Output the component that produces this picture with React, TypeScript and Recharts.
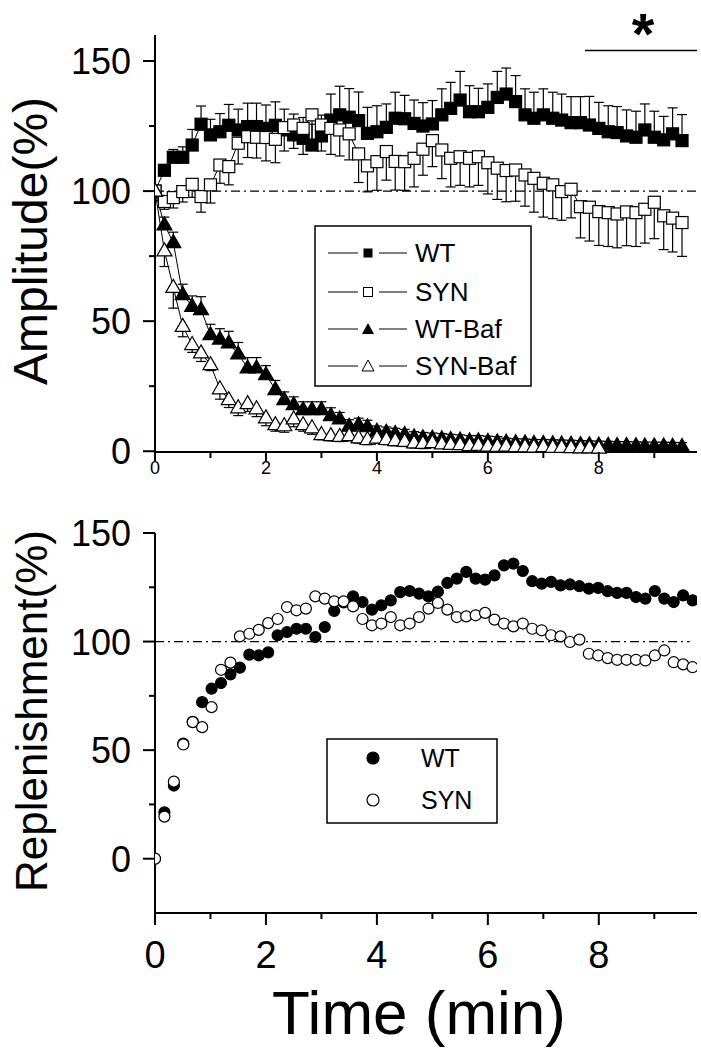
import React from "react";
import { LineChart, Line, XAxis, YAxis, ErrorBar, ReferenceLine, Legend } from "recharts";

const FONT = "'Liberation Sans', Arial, Helvetica, sans-serif";

// amplitude panel (one point every 10 s)
const ampTime = [0, 0.17, 0.33, 0.5, 0.67, 0.83, 1, 1.17, 1.33, 1.5, 1.67, 1.83, 2, 2.17, 2.33, 2.5, 2.67, 2.83, 3, 3.17, 3.33, 3.5, 3.67, 3.83, 4, 4.17, 4.33, 4.5, 4.67, 4.83, 5, 5.17, 5.33, 5.5, 5.67, 5.83, 6, 6.17, 6.33, 6.5, 6.67, 6.83, 7, 7.17, 7.33, 7.5, 7.67, 7.83, 8, 8.17, 8.33, 8.5, 8.67, 8.83, 9, 9.17, 9.33, 9.5];
const wtAmp = [100, 108, 113, 113, 117.7, 125.7, 121.6, 122.8, 125.3, 123.5, 124.8, 124.8, 124.1, 125.3, 123.5, 121.6, 120.3, 117.7, 121.2, 127.3, 129.3, 128.4, 127.1, 122.2, 122.8, 124.5, 128, 127.8, 126, 125, 125.8, 129.3, 131.8, 135, 130.5, 130.5, 132.2, 136, 137.3, 134.4, 129.3, 128, 129.3, 128, 127.3, 126.3, 126.3, 125.4, 124.1, 122.8, 122.5, 121.2, 120.7, 123.5, 120.7, 119.7, 122, 119.4];
const wtAmpErr = [0, 2, 3, 4, 6, 7, 6, 7, 8, 8, 9, 9, 9, 9, 8, 8, 8, 8, 8, 10, 11, 11, 11, 10, 10, 9, 10, 9, 9, 9, 9, 10, 10, 11, 10, 9, 9, 10, 10, 10, 10, 10, 10, 10, 10, 10, 10, 11, 10, 10, 10, 10, 10, 10, 10, 9, 10, 10];
const synAmp = [100, 96, 97.5, 99.8, 102.6, 97.9, 102.4, 110, 109.4, 118.4, 120.9, 120.7, 120.6, 119.9, 124.4, 125.4, 124.1, 129.3, 125.4, 124.1, 123.5, 122, 114.3, 109.7, 111.3, 115.2, 111.4, 111.3, 112.6, 116.1, 119.4, 115.8, 112.6, 113.2, 112.6, 113.2, 110.9, 108.8, 107.9, 108.1, 106.2, 104.9, 103, 102.4, 99.8, 100.7, 94, 93.8, 92.1, 91.7, 91.2, 92, 91.7, 93, 95.7, 90.5, 89.6, 87.9];
const synAmpErr = [0, 3, 4, 4, 5, 6, 7, 7, 7, 8, 8, 8, 9, 9, 9, 9, 10, 10, 10, 10, 10, 10, 11, 10, 11, 11, 11, 11, 11, 10, 10, 11, 11, 11, 11, 11, 12, 12, 12, 12, 12, 13, 13, 13, 11, 11, 12, 13, 13, 13, 13, 13, 13, 13, 14, 13, 13, 13];
const wtBaf = [100, 87, 80.2, 60.2, 55.7, 54.4, 44.8, 43.1, 41.6, 37.4, 32, 32, 29.4, 23.7, 19.8, 17.9, 16, 16, 16, 13.7, 12.4, 9.6, 10.2, 9.4, 7.7, 7.3, 6.8, 6.4, 5.5, 5.2, 5, 4.8, 4.5, 4.3, 4, 4, 3.8, 3.6, 3.5, 3.3, 3.2, 3, 3, 2.9, 2.8, 2.7, 2.6, 2.5, 2.4, 2.3, 2.2, 2.2, 2.1, 2, 2, 2, 1.9, 1.8];
const wtBafErr = [0, 3, 4, 4, 4, 5, 4, 4, 4.5, 4.4, 4, 4, 3.5, 3.5, 3, 3, 3, 3, 3, 3, 2.5, 2.5, 2.5, 2.5, 2, 2, 2, 2, 2, 2, 2, 2, 2, 2, 2, 2, 2, 2, 1.5, 1.5, 1.5, 1.5, 1.5, 1.5, 1.5, 1.5, 1.5, 1.5, 1.5, 1.5, 1.5, 1.5, 1.5, 1.5, 1.5, 1.5, 1.5, 1.5];
const synBaf = [100, 77, 63, 48, 41, 37.8, 33.3, 24, 19.8, 16.7, 18.3, 16.3, 12.8, 10.2, 9.8, 12.4, 10.2, 9, 6.4, 6, 5.7, 6, 5.1, 4.5, 5, 4.5, 4.1, 3.8, 3.2, 3, 3.3, 2.8, 2.6, 2.5, 2.2, 2.3, 2, 1.9, 2, 1.8, 1.7, 1.6, 1.8, 1.5, 1.5, 1.4, 1.3, 1.3, 1.2];
const synBafErr = [0, 6, 8, 4, 3, 3.3, 2.3, 4, 3, 3, 3, 3, 3, 2.5, 2.5, 3, 2.5, 2.5, 2, 2, 2, 2, 2, 2, 2, 2, 2, 2, 2, 2, 1.5, 1.5, 1.5, 1.5, 1.5, 1.5, 1.5, 1.5, 1.5, 1.5, 1.5, 1.5, 1.5, 1.5, 1.5, 1.5, 1.5, 1.5, 1.5];

// replenishment panel
const repTime = [0, 0.17, 0.34, 0.51, 0.68, 0.85, 1.02, 1.19, 1.36, 1.53, 1.7, 1.87, 2.04, 2.21, 2.38, 2.55, 2.72, 2.89, 3.06, 3.23, 3.4, 3.57, 3.74, 3.91, 4.08, 4.25, 4.42, 4.59, 4.76, 4.93, 5.1, 5.27, 5.44, 5.61, 5.78, 5.95, 6.12, 6.29, 6.46, 6.63, 6.8, 6.97, 7.14, 7.31, 7.48, 7.65, 7.82, 7.99, 8.16, 8.33, 8.5, 8.67, 8.84, 9.01, 9.18, 9.35, 9.52, 9.69];
const wtRep = [0, 21.4, 33.7, 53, 63, 72.1, 78.3, 80.9, 84.9, 88, 94, 93.6, 95, 102.9, 104.4, 105.9, 105.9, 102.1, 106.7, 114.1, 118, 120.8, 118.2, 114.7, 116.7, 119, 122.8, 123.3, 122.1, 120.8, 123, 127, 129, 132.1, 129, 128.5, 130.5, 135.1, 135.9, 132.5, 127.8, 126.7, 127.5, 125.9, 126.3, 125.5, 124.4, 124.7, 123.2, 122.4, 122.4, 120.5, 119.8, 123.3, 119.8, 118.2, 121.3, 119];
const synRep = [0, 19.4, 35.5, 52.6, 62.9, 60.6, 69.8, 87, 90.3, 102.4, 103.6, 105.4, 108.5, 110.4, 115.9, 114.4, 115.2, 120.8, 119.8, 118.5, 118.5, 116.2, 110.4, 107.5, 108.3, 111.3, 107.5, 108.3, 111.3, 115.2, 117.8, 114.7, 111.3, 111.6, 112.1, 113.2, 110.1, 108.3, 107, 108.3, 105.9, 105.2, 102.9, 102.4, 99.8, 100.9, 94.4, 93.6, 92.4, 91.6, 91.6, 91.6, 91.3, 93.6, 95.9, 90.5, 89.5, 88.2];

const topLegendNames = ["WT", "SYN", "WT-Baf", "SYN-Baf"];
const bottomLegendNames = ["WT", "SYN"];
const xTicks = [0, 1, 2, 3, 4, 5, 6, 7, 8, 9];
const yTicks = [0, 25, 50, 75, 100, 125, 150];

function rows(t: number[], v: number[], err?: number[], up = true) {
  return v.map((y, i) => {
    const e = err ? err[i] : 0;
    return { t: t[i], y, e: e ? (up ? [0, e] : [e, 0]) : undefined };
  });
}

const wtAmpRows = rows(ampTime, wtAmp, wtAmpErr, true);
const synAmpRows = rows(ampTime, synAmp, synAmpErr, false);
const wtBafRows = rows(ampTime, wtBaf, wtBafErr, true);
const synBafRows = rows(ampTime, synBaf, synBafErr, false);
const wtRepRows = rows(repTime, wtRep);
const synRepRows = rows(repTime, synRep);

const square = (fill: string) => (p: any) =>
  <rect key={p.index} x={p.cx - 6} y={p.cy - 6} width={12} height={12} fill={fill} stroke="#000" strokeWidth={1.2} />;
const triangle = (fill: string) => (p: any) =>
  <path key={p.index} d={`M${p.cx},${p.cy - 8}L${p.cx + 7.5},${p.cy + 5}L${p.cx - 7.5},${p.cy + 5}Z`} fill={fill} stroke="#000" strokeWidth={1.2} />;
const circle = (fill: string) => (p: any) =>
  <circle key={p.index} cx={p.cx} cy={p.cy} r={5.5} fill={fill} stroke="#000" strokeWidth={1.2} />;

function XTick({ x, y, payload, small }: any) {
  const v = payload.value;
  const major = v % 2 === 0;
  return (
    <g>
      <line x1={x} x2={x} y1={y} y2={y + (major ? (small ? 9 : 12) : 6)} stroke="#000" strokeWidth={2} />
      {major && (
        <text x={x} y={small ? y + 22 : y + 55} textAnchor="middle" fontSize={small ? 18 : 38} fontFamily={FONT} fill="#000">
          {v}
        </text>
      )}
    </g>
  );
}

function YTick({ x, y, payload }: any) {
  const v = payload.value;
  const major = v % 50 === 0;
  return (
    <g>
      <line x1={x - (major ? 12 : 6)} x2={x} y1={y} y2={y} stroke="#000" strokeWidth={2} />
      {major && (
        <text x={x - 24} y={y + 13} textAnchor="end" fontSize={36} fontFamily={FONT} fill="#000">
          {v}
        </text>
      )}
    </g>
  );
}

const yTitle = (text: string, cy: number, size: number) => (p: any) => {
  const x = 47;
  const y = p.viewBox.y + cy;
  return (
    <text x={x} y={y} transform={`rotate(-90, ${x}, ${y})`} textAnchor="middle" fontSize={size} fontFamily={FONT} fill="#000">
      {text}
    </text>
  );
};

function TopLegend() {
  const ys = [28, 67, 104, 141];
  const markers = [
    <rect x={49.5} y={-4.5} width={9} height={9} fill="#000" />,
    <rect x={49.5} y={-4.5} width={9} height={9} fill="#fff" stroke="#000" />,
    <path d="M54,-6L60,5L48,5Z" fill="#000" />,
    <path d="M54,-6L60,5L48,5Z" fill="#fff" stroke="#000" />,
  ];
  return (
    <svg width={218} height={162} style={{ display: "block" }}>
      <rect x={1} y={1} width={216} height={160} fill="#fff" stroke="#000" strokeWidth={1.5} />
      {topLegendNames.map((name, i) => (
        <g key={name} transform={`translate(0, ${ys[i]})`}>
          <line x1={14} x2={44} y1={0} y2={0} stroke="#000" />
          <line x1={65} x2={93} y1={0} y2={0} stroke="#000" />
          {markers[i]}
          <text x={101} y={9} fontSize={26} fontFamily={FONT} fill="#000">{name}</text>
        </g>
      ))}
    </svg>
  );
}

function BottomLegend() {
  const ys = [20, 62];
  return (
    <svg width={172} height={86} style={{ display: "block" }}>
      <rect x={1} y={1} width={170} height={84} fill="#fff" stroke="#000" strokeWidth={1.5} />
      {bottomLegendNames.map((name, i) => (
        <g key={name}>
          <circle cx={47} cy={ys[i]} r={6} fill={i === 0 ? "#000" : "#fff"} stroke="#000" strokeWidth={1.2} />
          <text x={95} y={ys[i] + 9} fontSize={25} fontFamily={FONT} fill="#000">{name}</text>
        </g>
      ))}
    </svg>
  );
}

const dash = "9 4 2 4";

export default function App() {
  return (
    <div style={{ position: "absolute", left: 0, top: 0, width: 701, height: 1049, background: "#fff" }}>
      <div style={{ position: "absolute", left: 0, top: 0 }}>
        <LineChart width={701} height={490} margin={{ top: 35, right: 4, bottom: 0, left: 0 }}>
          <XAxis dataKey="t" type="number" domain={[0, 9.77]} ticks={xTicks} interval={0} height={38}
            tickSize={0} tickMargin={0} axisLine={{ stroke: "#000", strokeWidth: 2 }} tickLine={false}
            tick={(p: any) => <XTick {...p} small />} allowDataOverflow />
          <YAxis type="number" domain={[0, 160]} ticks={yTicks} interval={0} width={155}
            tickSize={0} tickMargin={0} axisLine={{ stroke: "#000", strokeWidth: 2 }} tickLine={false}
            tick={(p: any) => <YTick {...p} />} label={{ content: yTitle("Amplitude(%)", 206, 48) }} />
          <ReferenceLine y={100} stroke="#000" strokeWidth={1.3} strokeDasharray={dash} />
          <ReferenceLine segment={[{ x: 7.75, y: 154 }, { x: 9.77, y: 154 }]} stroke="#000" strokeWidth={1.5}
            label={{ content: (p: any) => (
              <text x={p.viewBox.x + p.viewBox.width / 2 + 2} y={p.viewBox.y + 3} textAnchor="middle" fontSize={58} fontWeight="bold" fontFamily={FONT} fill="#000">*</text>
            ) }} />
          <Line data={wtAmpRows} dataKey="y" stroke="#000" strokeWidth={1} dot={square("#000")} isAnimationActive={false}>
            <ErrorBar dataKey="e" direction="y" width={5} stroke="#000" strokeWidth={1.2} />
          </Line>
          <Line data={synAmpRows} dataKey="y" stroke="#000" strokeWidth={1} dot={square("#fff")} isAnimationActive={false}>
            <ErrorBar dataKey="e" direction="y" width={5} stroke="#000" strokeWidth={1.2} />
          </Line>
          <Line data={wtBafRows} dataKey="y" stroke="#000" strokeWidth={1} dot={triangle("#000")} isAnimationActive={false}>
            <ErrorBar dataKey="e" direction="y" width={5} stroke="#000" strokeWidth={1.2} />
          </Line>
          <Line data={synBafRows} dataKey="y" stroke="#000" strokeWidth={1} dot={triangle("#fff")} isAnimationActive={false}>
            <ErrorBar dataKey="e" direction="y" width={5} stroke="#000" strokeWidth={1.2} />
          </Line>
          <Legend content={() => <TopLegend />} layout="vertical" align="center" verticalAlign="middle"
            wrapperStyle={{ left: 314, top: 225, width: 218, height: 162 }} />
        </LineChart>
      </div>
      <div style={{ position: "absolute", left: 0, top: 500 }}>
        <LineChart width={701} height={549} margin={{ top: 33, right: 4, bottom: 0, left: 0 }}>
          <XAxis dataKey="t" type="number" domain={[0, 9.77]} ticks={xTicks} interval={0} height={136}
            tickSize={0} tickMargin={0} axisLine={{ stroke: "#000", strokeWidth: 2 }} tickLine={false}
            tick={(p: any) => <XTick {...p} />} allowDataOverflow
            label={{ content: (p: any) => (
              <text x={p.viewBox.x + p.viewBox.width / 2 - 7} y={p.viewBox.y + 121} textAnchor="middle" fontSize={62} fontFamily={FONT} fill="#000">Time (min)</text>
            ) }} />
          <YAxis type="number" domain={[-25, 150]} ticks={yTicks} interval={0} width={155}
            tickSize={0} tickMargin={0} axisLine={{ stroke: "#000", strokeWidth: 2 }} tickLine={false}
            tick={(p: any) => <YTick {...p} />} label={{ content: yTitle("Replenishment(%)", 178, 44) }} />
          <ReferenceLine segment={[{ x: 0, y: 100 }, { x: 9.64, y: 100 }]} stroke="#000" strokeWidth={1.3} strokeDasharray={dash} />
          <Line data={wtRepRows} dataKey="y" stroke="none" dot={circle("#000")} isAnimationActive={false} />
          <Line data={synRepRows} dataKey="y" stroke="none" dot={circle("#fff")} isAnimationActive={false} />
          <Legend content={() => <BottomLegend />} layout="vertical" align="center" verticalAlign="middle"
            wrapperStyle={{ left: 326, top: 238, width: 172, height: 86 }} />
        </LineChart>
      </div>
    </div>
  );
}
